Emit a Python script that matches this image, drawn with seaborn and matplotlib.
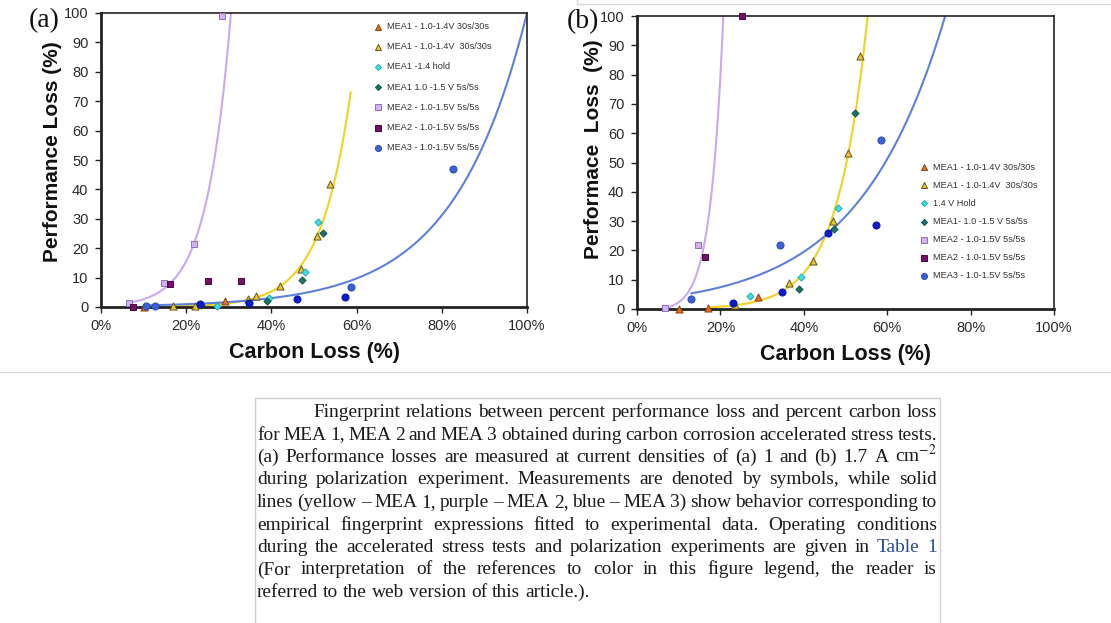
import numpy as np
import matplotlib
matplotlib.use("Agg")
import matplotlib.pyplot as plt
import seaborn as sns
from matplotlib.ticker import FuncFormatter
from matplotlib.lines import Line2D
from matplotlib.patches import Rectangle

# ---------------- data: panel (a), 1 A cm-2 ----------------
a_orange_x = [10.0, 29.0]
a_orange_y = [0.0, 2.0]
a_ochre_x = [17.0, 22.0, 34.5, 36.3, 42.1, 47.0, 50.6, 53.8]
a_ochre_y = [0.3, 0.3, 2.6, 3.7, 7.0, 13.0, 24.3, 42.0]
a_cyan_x = [27.2, 39.5, 48.0, 51.0]
a_cyan_y = [0.3, 2.9, 12.0, 29.0]
a_teal_x = [23.5, 39.0, 47.2, 52.1]
a_teal_y = [0.8, 2.0, 9.3, 25.3]
a_lilac_x = [6.5, 14.8, 21.8, 28.3]
a_lilac_y = [1.4, 8.0, 21.4, 99.0]
a_plum_x = [7.6, 16.3, 25.2, 32.8]
a_plum_y = [0.0, 7.8, 9.0, 9.0]
a_blue_x = [10.5, 12.7, 58.6, 82.7]
a_blue_y = [0.5, 0.3, 6.8, 47.0]
a_navy_x = [23.2, 34.7, 46.0, 57.3]
a_navy_y = [0.9, 1.2, 2.8, 3.4]

# fitted fingerprint curves: x_start, x_end, value at x_end, rate, offset
a_fit_mea2 = [6.5, 30.5, 100.0, 0.177, 0.0]
a_fit_mea1 = [17.0, 58.6, 73.0, 0.141, 0.0]
a_fit_mea3 = [10.3, 100.0, 100.0, 0.0583, 0.0]

# ---------------- data: panel (b), 1.7 A cm-2 ----------------
b_orange_x = [10.0, 17.0, 29.0]
b_orange_y = [0.0, 0.3, 4.2]
b_ochre_x = [23.5, 36.4, 42.1, 46.9, 50.7, 53.5]
b_ochre_y = [1.5, 9.0, 16.4, 30.0, 53.3, 86.5]
b_cyan_x = [27.2, 39.4, 48.1]
b_cyan_y = [4.4, 10.9, 34.4]
b_teal_x = [38.9, 47.2, 52.2]
b_teal_y = [6.9, 27.2, 66.8]
b_lilac_x = [6.6, 14.7]
b_lilac_y = [0.3, 22.0]
b_plum_x = [16.3, 25.1]
b_plum_y = [17.7, 100.0]
b_blue_x = [12.9, 34.4, 58.6]
b_blue_y = [3.5, 21.9, 57.7]
b_navy_x = [23.0, 34.7, 45.9, 57.4]
b_navy_y = [2.2, 5.8, 25.9, 28.5]

b_fit_mea2 = [6.6, 20.7, 100.0, 0.3233, -0.86]
b_fit_mea1 = [17.0, 55.3, 100.0, 0.137, 0.0]
b_fit_mea3 = [13.0, 73.9, 100.0, 0.0482, 0.0]

a_labels = ["MEA1 - 1.0-1.4V 30s/30s", "MEA1 - 1.0-1.4V  30s/30s", "MEA1 -1.4 hold",
            "MEA1 1.0 -1.5 V 5s/5s", "MEA2 - 1.0-1.5V 5s/5s", "MEA2 - 1.0-1.5V 5s/5s",
            "MEA3 - 1.0-1.5V 5s/5s"]
b_labels = ["MEA1 - 1.0-1.4V 30s/30s", "MEA1 - 1.0-1.4V  30s/30s", "1.4 V Hold",
            "MEA1- 1.0 -1.5 V 5s/5s", "MEA2 - 1.0-1.5V 5s/5s", "MEA2 - 1.0-1.5V 5s/5s",
            "MEA3 - 1.0-1.5V 5s/5s"]

x_ticks = [0, 20, 40, 60, 80, 100]
y_ticks = [0, 10, 20, 30, 40, 50, 60, 70, 80, 90, 100]

caption_lines = [
    "Fingerprint relations between percent performance loss and percent carbon loss",
    "for MEA 1, MEA 2 and MEA 3 obtained during carbon corrosion accelerated stress tests.",
    "(a) Performance losses are measured at current densities of (a) 1 and (b) 1.7 A cm$^{-2}$",
    "during polarization experiment. Measurements are denoted by symbols, while solid",
    "lines (yellow \u2013 MEA 1, purple \u2013 MEA 2, blue \u2013 MEA 3) show behavior corresponding to",
    "empirical fingerprint expressions fitted to experimental data. Operating conditions",
    "during the accelerated stress tests and polarization experiments are given in Table 1",
    "(For interpretation of the references to color in this figure legend, the reader is",
    "referred to the web version of this article.).",
]

# ---------------- styling ----------------
sns.set_theme(style="white")
plt.rcParams["font.family"] = ["Liberation Sans", "DejaVu Sans"]
plt.rcParams["mathtext.fontset"] = "stix"

MARK = {
    "orange": dict(marker="^", s=26, color="#E2701F", edgecolor="#8E4410"),
    "ochre": dict(marker="^", s=26, color="#E6C43C", edgecolor="#6A5614"),
    "cyan": dict(marker="D", s=13, color="#3EE2E2", edgecolor="#22A8B8"),
    "teal": dict(marker="D", s=13, color="#1C7468", edgecolor="#135248"),
    "lilac": dict(marker="s", s=24, color="#D4B0F4", edgecolor="#9070B6"),
    "plum": dict(marker="s", s=24, color="#78106A", edgecolor="#48083E"),
    "blue": dict(marker="o", s=26, color="#3A62D8", edgecolor="#2A4AB0"),
    "navy": dict(marker="o", s=26, color="#0B1CD0", edgecolor="#0A149C"),
}
CURVE = {"mea2": "#C9A9F1", "mea1": "#F1D21E", "mea3": "#5C80DC"}
INK = "#222222"

W, H = 1111, 623
fig = plt.figure(figsize=(W / 100, H / 100), dpi=100)
fig.patch.set_facecolor("white")


def axes_px(left, top, right, bottom):
    return fig.add_axes([left / W, 1 - bottom / H, (right - left) / W, (bottom - top) / H])


def fit_curve(params):
    x0, x1, v1, k, c = params
    xs = np.linspace(x0, x1, 300)
    return xs, (v1 - c) * np.exp(k * (xs - x1)) + c


def draw_panel(ax, points, fits, labels, leg_anchor, leg_spacing, ylabel, ylabel_xy):
    for key, params in fits:
        xs, ys = fit_curve(params)
        sns.lineplot(x=xs, y=ys, ax=ax, color=CURVE[key], lw=1.5,
                     estimator=None, sort=False, legend=False)
    label_iter = iter(labels)
    for key, xs, ys in points:
        lab = "_nolegend_" if key == "navy" else next(label_iter)
        st = MARK[key]
        sns.scatterplot(x=xs, y=ys, ax=ax, marker=st["marker"], s=st["s"],
                        color=st["color"], edgecolor=st["edgecolor"], linewidth=0.7,
                        label=lab, zorder=3, clip_on=False)
    ax.set_xlim(0, 100)
    ax.set_ylim(0, 100)
    ax.set_xticks(x_ticks)
    ax.set_yticks(y_ticks)
    ax.xaxis.set_major_formatter(FuncFormatter(lambda v, p: f"{int(v)}%"))
    ax.tick_params(axis="both", which="major", bottom=True, left=True,
                   direction="out", length=4, width=1, color=INK,
                   labelsize=10.5, labelcolor="#2a2a2a", pad=5)
    for side in ("left", "bottom"):
        ax.spines[side].set_linewidth(2.0)
        ax.spines[side].set_color(INK)
    for side in ("top", "right"):
        ax.spines[side].set_linewidth(1.2)
        ax.spines[side].set_color(INK)
    ax.set_xlabel("Carbon Loss (%)", fontsize=15.5, fontweight="bold", color="#111111", labelpad=6)
    ax.set_ylabel(ylabel, fontsize=15, fontweight="bold", color="#111111")
    ax.yaxis.set_label_coords(*ylabel_xy)
    handles, labs = ax.get_legend_handles_labels()
    ax.legend(handles, labs, loc="upper left", bbox_to_anchor=leg_anchor, frameon=False,
              fontsize=6.6, labelcolor="#333333", borderpad=0, borderaxespad=0,
              handlelength=0.8, handletextpad=0.6, labelspacing=leg_spacing,
              markerscale=0.85)


# panel (a)
ax_a = axes_px(101, 13, 527, 307)
draw_panel(
    ax_a,
    [("orange", a_orange_x, a_orange_y), ("ochre", a_ochre_x, a_ochre_y),
     ("cyan", a_cyan_x, a_cyan_y), ("teal", a_teal_x, a_teal_y),
     ("lilac", a_lilac_x, a_lilac_y), ("plum", a_plum_x, a_plum_y),
     ("blue", a_blue_x, a_blue_y), ("navy", a_navy_x, a_navy_y)],
    [("mea2", a_fit_mea2), ("mea1", a_fit_mea1), ("mea3", a_fit_mea3)],
    a_labels, (0.642, 0.969), 1.22, "Performance Loss (%)", (-0.0915, 0.527))

# panel (b)
ax_b = axes_px(637, 16, 1054, 309)
draw_panel(
    ax_b,
    [("orange", b_orange_x, b_orange_y), ("ochre", b_ochre_x, b_ochre_y),
     ("cyan", b_cyan_x, b_cyan_y), ("teal", b_teal_x, b_teal_y),
     ("lilac", b_lilac_x, b_lilac_y), ("plum", b_plum_x, b_plum_y),
     ("blue", b_blue_x, b_blue_y), ("navy", b_navy_x, b_navy_y)],
    [("mea2", b_fit_mea2), ("mea1", b_fit_mea1), ("mea3", b_fit_mea3)],
    b_labels, (0.68, 0.50), 1.0, "Performace  Loss  (%)", (-0.0815, 0.546))

# panel tags
fig.text(44 / W, 1 - 21 / H, "(a)", family=["Liberation Serif", "DejaVu Serif"],
         fontsize=20, color="#111111", ha="center", va="center")
fig.text(583 / W, 1 - 22 / H, "(b)", family=["Liberation Serif", "DejaVu Serif"],
         fontsize=20, color="#111111", ha="center", va="center")

# thin page rules
rule = dict(transform=fig.transFigure, color="#d8d8d8", lw=1.0)
fig.add_artist(Line2D([0, 1], [1 - 372 / H] * 2, **rule))
fig.add_artist(Line2D([577 / W, 577 / W], [1, 1 - 4 / H], **rule))
fig.add_artist(Line2D([577 / W, 1], [1 - 4 / H] * 2, **rule))
fig.add_artist(Rectangle((255 / W, -0.05), (940 - 255) / W, (623 - 398) / H + 0.05,
                         transform=fig.transFigure, fill=False, edgecolor="#d0d0d0", lw=1.0))

# justified caption
cap_family = ["Liberation Serif", "DejaVu Serif"]
renderer = fig.canvas.get_renderer()


def text_width(s, size):
    t = fig.text(0, 0, s, family=cap_family, fontsize=size)
    w = t.get_window_extent(renderer).width
    t.remove()
    return w


left_px, right_px, indent_px = 257, 937, 313

# largest size at which every justified line keeps word gaps of at least 0.8 space
ref_size = 10.0
ref_space = text_width("a a", ref_size) - text_width("aa", ref_size)
cap_size = 14.0
for i, line in enumerate(caption_lines[:-1]):
    words = line.split(" ")
    wsum = sum(text_width(w, ref_size) for w in words)
    avail = right_px - (indent_px if i == 0 else left_px)
    fit = avail / (wsum + 0.8 * ref_space * (len(words) - 1)) * ref_size
    cap_size = min(cap_size, fit)

space_w = text_width("a a", cap_size) - text_width("aa", cap_size)
for i, line in enumerate(caption_lines):
    words = line.split(" ")
    widths = [text_width(w, cap_size) for w in words]
    x_start = indent_px if i == 0 else left_px
    if i == len(caption_lines) - 1:
        gap = space_w
    else:
        gap = (right_px - x_start - sum(widths)) / (len(words) - 1)
    x = x_start
    base_y = 417 + 22.5 * i
    for j, (w, wd) in enumerate(zip(words, widths)):
        color = "#1a1a1a"
        if i == 6 and j >= len(words) - 2:
            color = "#2B4C9A"
        fig.text(x / W, 1 - base_y / H, w, family=cap_family, fontsize=cap_size,
                 color=color, ha="left", va="baseline")
        x += wd + gap

fig.savefig("out.png", dpi=100, facecolor="white")
